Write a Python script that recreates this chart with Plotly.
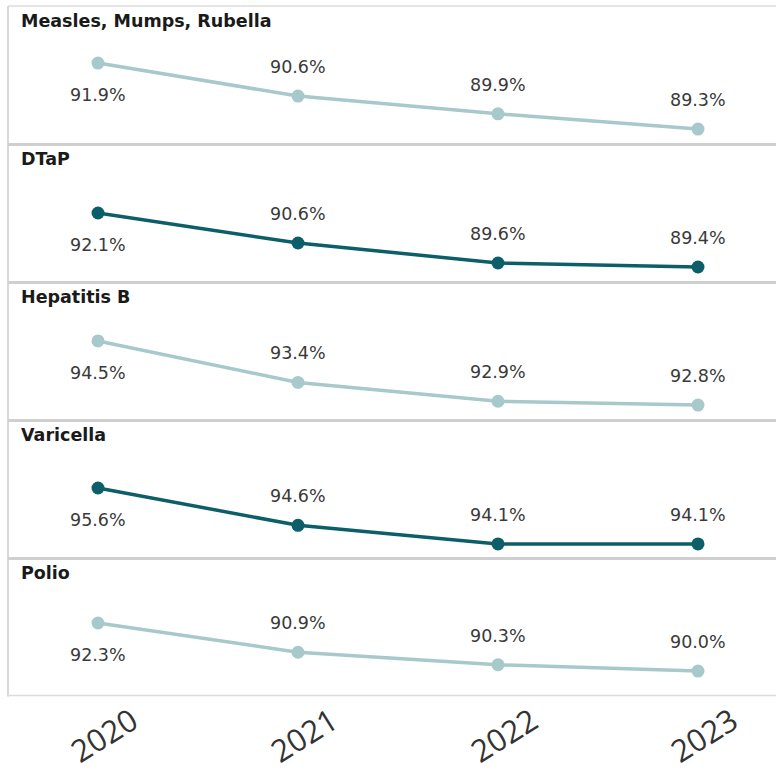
import plotly.graph_objects as go
from plotly.subplots import make_subplots

years = ["2020", "2021", "2022", "2023"]
vaccines = ["Measles, Mumps, Rubella", "DTaP", "Hepatitis B", "Varicella", "Polio"]
mmr = [91.9, 90.6, 89.9, 89.3]
dtap = [92.1, 90.6, 89.6, 89.4]
hepb = [94.5, 93.4, 92.9, 92.8]
varicella = [95.6, 94.6, 94.1, 94.1]
polio = [92.3, 90.9, 90.3, 90.0]
series = [mmr, dtap, hepb, varicella, polio]

LIGHT = "#a7c9cb"
DARK = "#0c5f69"
colors = [LIGHT, DARK, LIGHT, DARK, LIGHT]
y_ranges = [[88.69, 94.13], [88.625, 95.525], [92.39, 96.05], [93.71, 97.41], [88.78, 95.39]]

W, H = 776, 774
top_px = 6.5
panel_px = 138.0

fig = make_subplots(rows=5, cols=1, shared_xaxes=False, vertical_spacing=0)

for i, (name, vals, col) in enumerate(zip(vaccines, series, colors)):
    r = i + 1
    fig.add_trace(
        go.Scatter(
            x=list(range(len(years))), y=vals, mode="lines+markers",
            line=dict(color=col, width=3.5),
            marker=dict(color=col, size=13),
            hoverinfo="skip", showlegend=False,
        ),
        row=r, col=1,
    )
    y0 = top_px + panel_px * i
    y1 = y0 + panel_px
    dom = [1 - y1 / H, 1 - y0 / H]
    suffix = "" if r == 1 else str(r)
    fig.layout["yaxis" + suffix].update(
        domain=dom, range=y_ranges[i], showgrid=False, zeroline=False,
        showticklabels=False, showline=False, fixedrange=True, automargin=False,
    )
    fig.layout["xaxis" + suffix].update(
        domain=[8 / W, 1], range=[-0.45, 3.39], showgrid=False, zeroline=False,
        showline=False, showticklabels=(r == 5), fixedrange=True, automargin=False,
        tickmode="array", tickvals=list(range(len(years))), ticktext=years,
    )
    xref = "x" + suffix
    yref = "y" + suffix
    # panel title
    fig.add_annotation(
        xref="paper", yref="paper", x=19 / W, y=1 - (y0 + 14.5) / H,
        text="<b>%s</b>" % name, showarrow=False, xanchor="left", yanchor="middle",
        font=dict(family="DejaVu Sans", size=17.5, color="#1a1a1a"),
    )
    # value labels: first point below, the rest above
    for j, v in enumerate(vals):
        fig.add_annotation(
            xref=xref, yref=yref, x=j, y=v, text="%.1f%%" % v, showarrow=False,
            xanchor="center", yanchor="middle", yshift=(-32 if j == 0 else 29),
            font=dict(family="DejaVu Sans", size=17.5, color="#3a3a3a"),
        )

shapes = []
# frame: top, left, bottom
shapes.append(dict(type="line", xref="paper", yref="paper", x0=8 / W, x1=1,
                   y0=1 - 6 / H, y1=1 - 6 / H, line=dict(color="#dcdcdc", width=1.5)))
shapes.append(dict(type="line", xref="paper", yref="paper", x0=8 / W, x1=8 / W,
                   y0=1 - 696.5 / H, y1=1 - 6 / H, line=dict(color="#d8d8d8", width=2)))
shapes.append(dict(type="line", xref="paper", yref="paper", x0=8 / W, x1=1,
                   y0=1 - 695.5 / H, y1=1 - 695.5 / H, line=dict(color="#dcdcdc", width=1.5)))
# separators between panels
for k in range(1, 5):
    yp = top_px + panel_px * k
    shapes.append(dict(type="line", xref="paper", yref="paper", x0=8 / W, x1=1,
                       y0=1 - yp / H, y1=1 - yp / H, line=dict(color="#cfcfcf", width=3)))

fig.update_layout(
    width=W, height=H, margin=dict(l=0, r=0, t=0, b=0, autoexpand=False),
    paper_bgcolor="white", plot_bgcolor="white", shapes=shapes,
)
fig.update_xaxes(tickangle=-32, tickfont=dict(family="Open Sans", size=31, color="#333333"),
                 ticks="", ticklabelshift=34, ticklabelstandoff=0, row=5, col=1)

fig.write_html("out.html")
